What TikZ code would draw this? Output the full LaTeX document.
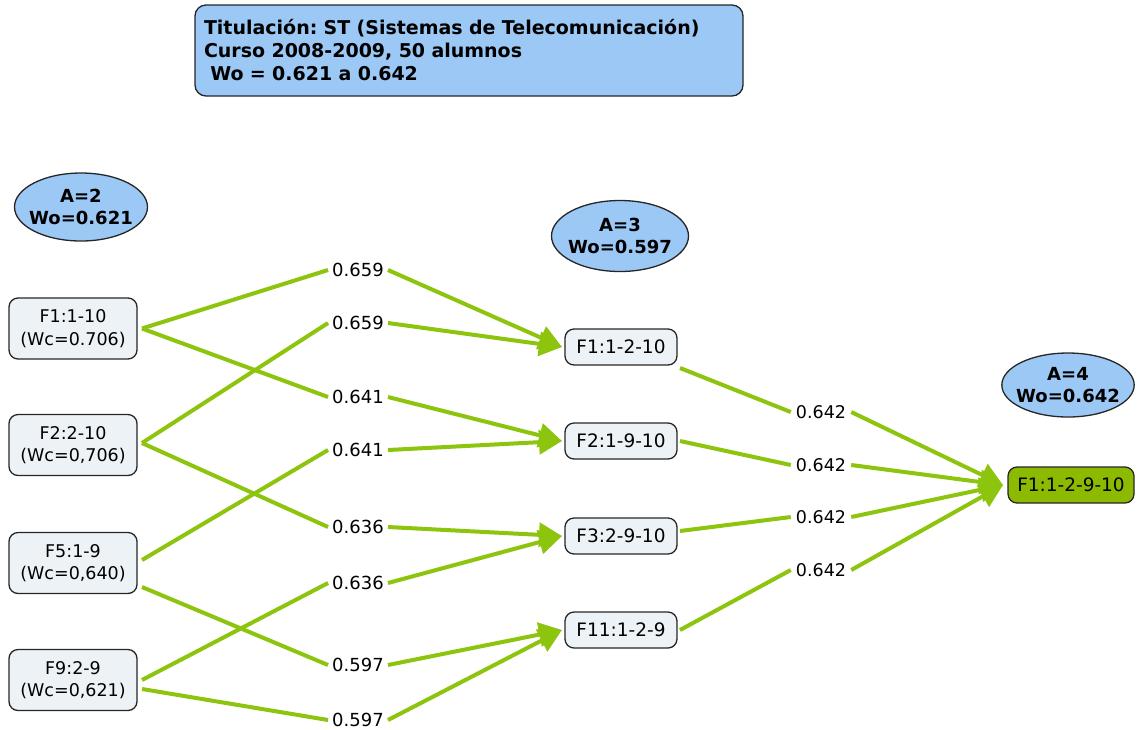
\documentclass[tikz,border=0pt]{standalone}
\usepackage{fontspec}
\setmainfont{DejaVu Sans}
\frenchspacing
\usetikzlibrary{arrows.meta,shapes.geometric}
\definecolor{edgegreen}{RGB}{140,196,14}
\definecolor{finalgreen}{RGB}{140,186,0}
\definecolor{skyfill}{RGB}{155,200,245}
\definecolor{boxfill}{RGB}{236,242,246}

\begin{document}
\begin{tikzpicture}[x=1pt,y=-1pt,
  basefont/.style={font=\fontsize{17.5}{22.5}\selectfont},
  hdrbox/.style={draw=black!85, line width=1.3pt, rounded corners=11pt, fill=skyfill,
    minimum width=548pt, minimum height=91pt, text width=530pt, align=left,
    font=\fontsize{19}{23}\selectfont\bfseries},
  stagebubble/.style={ellipse, draw=black!85, line width=1.3pt, fill=skyfill,
    inner xsep=-5pt, inner ysep=0pt,
    align=center, font=\fontsize{18}{22}\selectfont\bfseries},
  srcbox/.style={draw=black!85, line width=1.3pt, rounded corners=9pt, fill=boxfill,
    minimum width=128pt, minimum height=61pt, align=center, outer sep=5pt, basefont},
  midbox/.style={draw=black!85, line width=1.3pt, rounded corners=9pt, fill=boxfill,
    minimum width=112pt, minimum height=36pt, outer sep=3pt, font=\fontsize{18.5}{22}\selectfont},
  endbox/.style={draw=black!85, line width=1.3pt, rounded corners=9pt, fill=finalgreen,
    minimum width=126pt, minimum height=36pt, outer sep=5pt, font=\fontsize{18.5}{22}\selectfont},
  wlabel/.style={inner xsep=4pt, inner ysep=2pt, font=\fontsize{18}{22}\selectfont},
  rlabel/.style={inner xsep=5pt, inner ysep=2pt, font=\fontsize{17.5}{22}\selectfont},
  flow/.style={draw=edgegreen, line width=4pt},
  flowarrow/.style={flow, -{Triangle[length=23pt,width=24pt]}}
]
\useasboundingbox (0,0) rectangle (1137,729);

% header
\node[hdrbox] (hdr) at (469,50.5) {Titulación: ST (Sistemas de Telecomunicación)\\Curso 2008-2009, 50 alumnos\\\ Wo = 0.621 a 0.642};

% stage bubbles
\node[stagebubble, minimum width=133pt, minimum height=68pt] (a2) at (81,207) {A=2\\Wo=0.621};
\node[stagebubble, minimum width=137pt, minimum height=71pt] (a3) at (620,236) {A=3\\Wo=0.597};
\node[stagebubble, minimum width=129pt, minimum height=64pt] (a4) at (1068,385) {A=4\\Wo=0.642};

% first-stage boxes
\node[srcbox] (s1) at (73,328.5) {F1:1-10\\(Wc=0.706)};
\node[srcbox] (s2) at (73,445) {F2:2-10\\(Wc=0,706)};
\node[srcbox] (s5) at (73,563) {F5:1-9\\(Wc=0,640)};
\node[srcbox] (s9) at (73,680) {F9:2-9\\(Wc=0,621)};

% second-stage boxes
\node[midbox] (m1) at (621,347) {F1:1-2-10};
\node[midbox] (m2) at (621,441) {F2:1-9-10};
\node[midbox] (m3) at (621,536) {F3:2-9-10};
\node[midbox] (m11) at (621,630) {F11:1-2-9};

% final box
\node[endbox] (fin) at (1071,485) {F1:1-2-9-10};

% weights between stage 1 and stage 2
\node[wlabel] (w1) at (358,270) {0.659};
\node[wlabel] (w2) at (358,323) {0.659};
\node[wlabel] (w3) at (358,397) {0.641};
\node[wlabel] (w4) at (358,450) {0.641};
\node[wlabel] (w5) at (358,527) {0.636};
\node[wlabel] (w6) at (358,583) {0.636};
\node[wlabel] (w7) at (358,665) {0.597};
\node[wlabel] (w8) at (358,720) {0.597};

% weights between stage 2 and stage 3
\node[rlabel] (r1) at (821,412) {0.642};
\node[rlabel] (r2) at (821,465) {0.642};
\node[rlabel] (r3) at (821,517) {0.642};
\node[rlabel] (r4) at (821,570) {0.642};

% stage 1 -> weights
\draw[flow] (s1.east) -- (w1.west);
\draw[flow] (s1.east) -- (w3.west);
\draw[flow] ([yshift=2pt]s2.east) -- (w2.west);
\draw[flow] ([yshift=2pt]s2.east) -- (w5.west);
\draw[flow] ([yshift=3pt]s5.east) -- (w4.west);
\draw[flow] ([yshift=-24pt]s5.east) -- (w7.west);
\draw[flow] (s9.east) -- (w6.west);
\draw[flow] ([yshift=-9pt]s9.east) -- (w8.west);

% weights -> stage 2
\draw[flowarrow] (w1.east) -- (m1.west);
\draw[flowarrow] (w2.east) -- (m1.west);
\draw[flowarrow] (w3.east) -- (m2.west);
\draw[flowarrow] (w4.east) -- (m2.west);
\draw[flowarrow] (w5.east) -- (m3.west);
\draw[flowarrow] (w6.east) -- (m3.west);
\draw[flowarrow] (w7.east) -- (m11.west);
\draw[flowarrow] (w8.east) -- (m11.west);

% stage 2 -> weights
\draw[flow] (m1.south east) -- (r1.west);
\draw[flow] (m2.east) -- (r2.west);
\draw[flow] ([yshift=5pt]m3.east) -- (r3.west);
\draw[flow] (m11.east) -- (r4.west);

% weights -> final
\draw[flowarrow] (r1.east) -- (fin.west);
\draw[flowarrow] (r2.east) -- (fin.west);
\draw[flowarrow] (r3.east) -- (fin.west);
\draw[flowarrow] (r4.east) -- (fin.west);
\end{tikzpicture}
\end{document}
